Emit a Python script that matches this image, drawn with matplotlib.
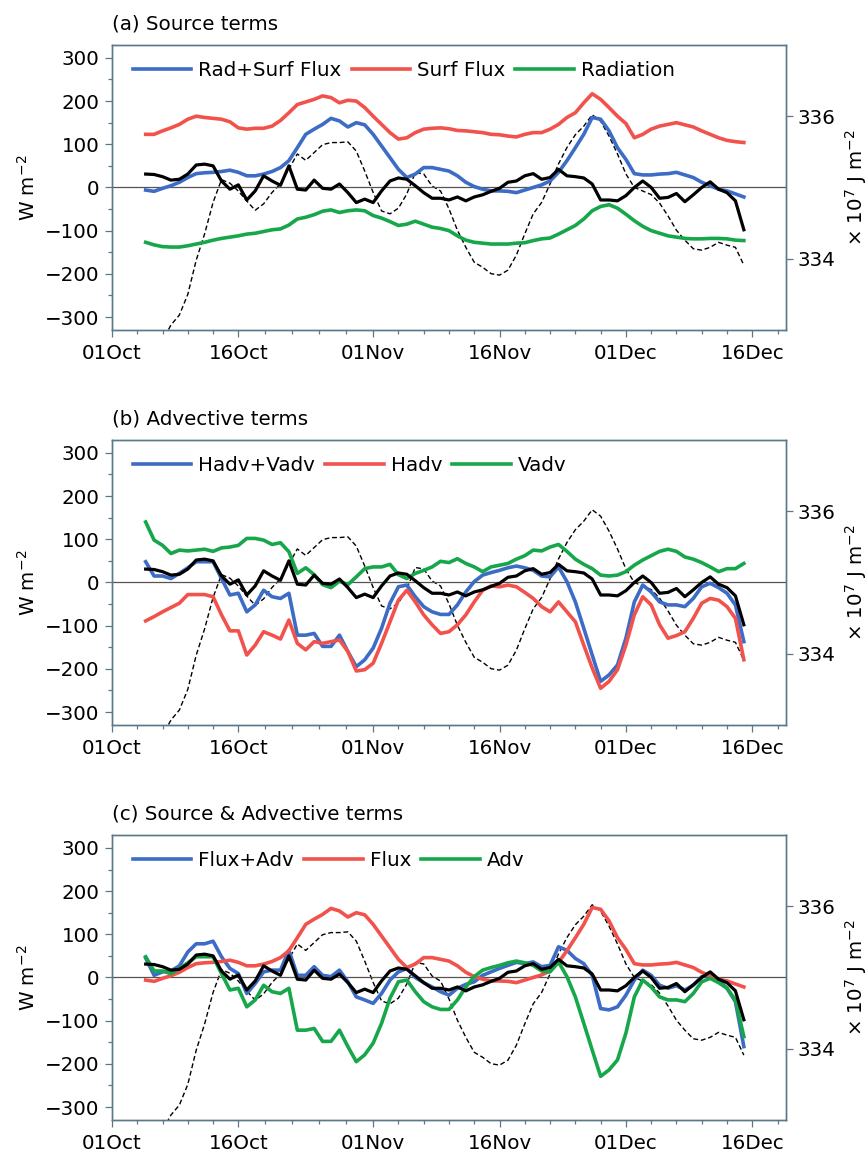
import matplotlib
matplotlib.use('Agg')
import matplotlib.pyplot as plt
import matplotlib.dates as mdates
import numpy as np
import pandas as pd

# daily values, 5 Oct - 15 Dec
days = pd.date_range('2011-10-05', '2011-12-15', freq='D')

# heat content tendency (W m-2), same in every panel
tendency = [31, 30, 25, 17, 19, 31, 52, 54, 50, 15,
            -4, 6, -29, -8, 27, 15, 5, 50, -4, -6,
            17, -2, -4, 8, -12, -35, -27, -35, -8, 15,
            22, 19, 4, -12, -25, -25, -29, -22, -31, -22,
            -17, -9, -2, 12, 15, 27, 32, 19, 23, 42,
            27, 25, 22, 8, -29, -29, -31, -19, 0, 15,
            0, -25, -23, -14, -33, -17, 0, 13, -4, -12,
            -31, -98]

# heat content (x 10^7 J m-2), right axis
heat = [332.45, 332.65, 332.85, 333.07, 333.21, 333.50, 333.98, 334.35, 334.79, 335.11,
        335.06, 334.95, 334.81, 334.68, 334.77, 334.93, 335.05, 335.26, 335.47, 335.38,
        335.49, 335.60, 335.63, 335.63, 335.64, 335.51, 335.23, 334.93, 334.67, 334.63,
        334.71, 334.91, 335.21, 335.19, 335.02, 334.95, 334.70, 334.40, 334.16, 333.95,
        333.88, 333.79, 333.77, 333.84, 334.05, 334.35, 334.63, 334.79, 335.05, 335.33,
        335.56, 335.74, 335.86, 336.02, 335.93, 335.72, 335.47, 335.19, 335.00, 334.95,
        334.90, 334.78, 334.60, 334.40, 334.26, 334.14, 334.12, 334.16, 334.23, 334.19,
        334.16, 333.91]

surf_flux = [123, 123, 131, 138, 146, 158, 165, 162, 160, 158,
             152, 138, 135, 137, 137, 142, 155, 173, 192, 198,
             204, 212, 208, 196, 202, 200, 185, 165, 146, 127,
             112, 115, 127, 135, 137, 138, 136, 132, 131, 129,
             127, 123, 122, 119, 117, 123, 127, 127, 135, 146,
             162, 173, 196, 217, 204, 185, 165, 148, 115, 123,
             135, 142, 146, 150, 145, 140, 131, 123, 115, 109,
             106, 104]

rad_surf = [-6, -9, -2, 4, 12, 23, 32, 34, 35, 37,
            40, 35, 27, 27, 31, 37, 46, 62, 92, 123,
            135, 146, 160, 154, 140, 150, 145, 123, 96, 69,
            42, 23, 31, 46, 46, 42, 38, 27, 12, 2,
            -4, -8, -8, -9, -12, -6, 0, 6, 15, 35,
            62, 92, 123, 162, 158, 131, 92, 65, 32, 29,
            29, 31, 32, 35, 29, 23, 12, 4, -4, -8,
            -15, -22]

radiation = [-127, -133, -137, -138, -138, -135, -131, -127, -122, -118,
             -115, -112, -108, -106, -102, -98, -96, -87, -73, -69,
             -63, -55, -52, -58, -54, -52, -54, -65, -71, -79,
             -88, -85, -78, -85, -92, -95, -100, -112, -122, -127,
             -129, -131, -131, -131, -129, -128, -123, -119, -117, -108,
             -98, -88, -73, -54, -44, -40, -48, -62, -77, -90,
             -100, -106, -112, -115, -118, -119, -119, -118, -118, -119,
             -122, -123]

vadv = [140, 98, 86, 67, 75, 73, 75, 77, 72, 80,
        82, 86, 102, 102, 98, 88, 92, 71, 21, 34,
        18, -5, -12, 3, -5, 13, 32, 36, 36, 42,
        18, 9, 21, 28, 36, 49, 46, 55, 44, 36,
        25, 36, 40, 44, 54, 62, 75, 73, 82, 88,
        72, 54, 42, 32, 17, 15, 17, 25, 40, 52,
        62, 72, 77, 72, 59, 54, 46, 36, 25, 32,
        32, 44]

hv_adv = [48, 15, 15, 9, 21, 34, 48, 48, 48, 9,
          -29, -25, -68, -52, -18, -33, -37, -25, -122, -122,
          -118, -148, -148, -122, -160, -195, -179, -152, -106, -48,
          -10, -6, -33, -56, -68, -74, -74, -52, -22, 2,
          17, 23, 28, 34, 38, 34, 28, 15, 13, 36,
          2, -45, -106, -168, -229, -214, -191, -129, -45, -6,
          -22, -45, -52, -52, -56, -37, -10, -2, -12, -25,
          -52, -137]

hadv = [-89, -79, -68, -58, -48, -28, -28, -28, -33, -75,
        -112, -112, -168, -145, -114, -122, -131, -87, -141, -156,
        -137, -141, -137, -133, -160, -205, -202, -187, -141, -91,
        -41, -18, -45, -75, -98, -118, -114, -98, -75, -45,
        -18, -8, -10, -6, -10, -23, -37, -56, -68, -45,
        -68, -91, -145, -198, -245, -229, -202, -145, -75, -33,
        -52, -98, -129, -123, -114, -83, -48, -37, -41, -56,
        -83, -179]

flux_adv = [45, 5, 13, 15, 27, 59, 78, 78, 84, 48,
            21, 9, -37, -14, 13, 17, 17, 63, 5, 5,
            25, 5, 2, 17, -10, -45, -52, -60, -37, -6,
            13, 21, 0, -12, -22, -33, -41, -25, -16, -10,
            5, 13, 21, 28, 35, 32, 36, 25, 28, 71,
            63, 44, 32, 5, -72, -75, -68, -41, -6, 17,
            5, -18, -25, -19, -29, -18, 2, 7, -6, -25,
            -56, -160]

major_dates = pd.to_datetime(['2011-10-01', '2011-10-16', '2011-11-01',
                              '2011-11-16', '2011-12-01', '2011-12-16'])
major_labels = ['01Oct', '16Oct', '01Nov', '16Nov', '01Dec', '16Dec']

blue = '#3d6cc6'
red = '#f2524c'
green = '#17a74b'
frame = '#587a88'
fs = 14.3

panels = [
    ('(a) Source terms',
     [(rad_surf, blue, 'Rad+Surf Flux'), (surf_flux, red, 'Surf Flux'),
      (radiation, green, 'Radiation')]),
    ('(b) Advective terms',
     [(hv_adv, blue, 'Hadv+Vadv'), (hadv, red, 'Hadv'), (vadv, green, 'Vadv')]),
    ('(c) Source & Advective terms',
     [(flux_adv, blue, 'Flux+Adv'), (rad_surf, red, 'Flux'), (hv_adv, green, 'Adv')]),
]
bottoms = [0.7143, 0.3723, 0.0303]

mnum = mdates.date2num(major_dates)
minor = []
for a, b in zip(mnum[:-1], mnum[1:]):
    minor += list(np.linspace(a, b, 6)[1:-1])
minor.append(mnum[-1] + 3)

fig = plt.figure(figsize=(8.68, 11.55), dpi=100)

for (title, series), bot in zip(panels, bottoms):
    ax = fig.add_axes([0.129, bot, 0.7765, 0.2468])
    ax2 = ax.twinx()
    ax.set_zorder(ax2.get_zorder() + 1)
    ax.patch.set_visible(False)

    ax.axhline(0, color='#5b5350', lw=0.9, zorder=1)
    for vals, col, lab in series:
        ax.plot(days, vals, color=col, lw=2.6, label=lab, zorder=2)
    ax.plot(days, tendency, color='k', lw=2.3, zorder=3)
    ax2.plot(days, heat, color='k', lw=1.0, ls=(0, (3.5, 2)))

    ax.set_xlim(pd.Timestamp('2011-10-01'), pd.Timestamp('2011-12-20'))
    ax.set_ylim(-330, 330)
    ax2.set_ylim(333, 337)
    ax.set_yticks(range(-300, 301, 100))
    ax.set_yticks(range(-250, 300, 100), minor=True)
    ax2.set_yticks([334, 336])
    ax.set_xticks(major_dates)
    ax.set_xticklabels(major_labels)
    ax.set_xticks(minor, minor=True)

    for a in (ax, ax2):
        for sp in a.spines.values():
            sp.set_color(frame)
            sp.set_linewidth(1.0)
        a.tick_params(which='both', direction='out', color=frame, width=0.9,
                      labelsize=fs, labelcolor='k')
        a.tick_params(which='major', length=5)
        a.tick_params(which='minor', length=3)
    ax.tick_params(axis='x', pad=5)
    ax.tick_params(axis='y', pad=4)
    ax2.tick_params(axis='y', pad=3)

    ax.text(0.0, 1.075, title, transform=ax.transAxes, fontsize=fs,
            ha='left', va='center')
    ax.text(-0.1246, 0.5, 'W m$^{-2}$', transform=ax.transAxes, fontsize=fs,
            rotation=90, ha='center', va='center')
    ax.text(1.104, 0.5, '\u00d7 10$^{7}$ J m$^{-2}$', transform=ax.transAxes,
            fontsize=fs, rotation=90, ha='center', va='center')

    ax.legend(loc='center left', bbox_to_anchor=(0.031, 0.909), ncol=3,
              frameon=False, handlelength=2.95, handletextpad=0.35,
              columnspacing=0.5, borderpad=0, borderaxespad=0, fontsize=fs)

fig.savefig('out.png', dpi=100)
